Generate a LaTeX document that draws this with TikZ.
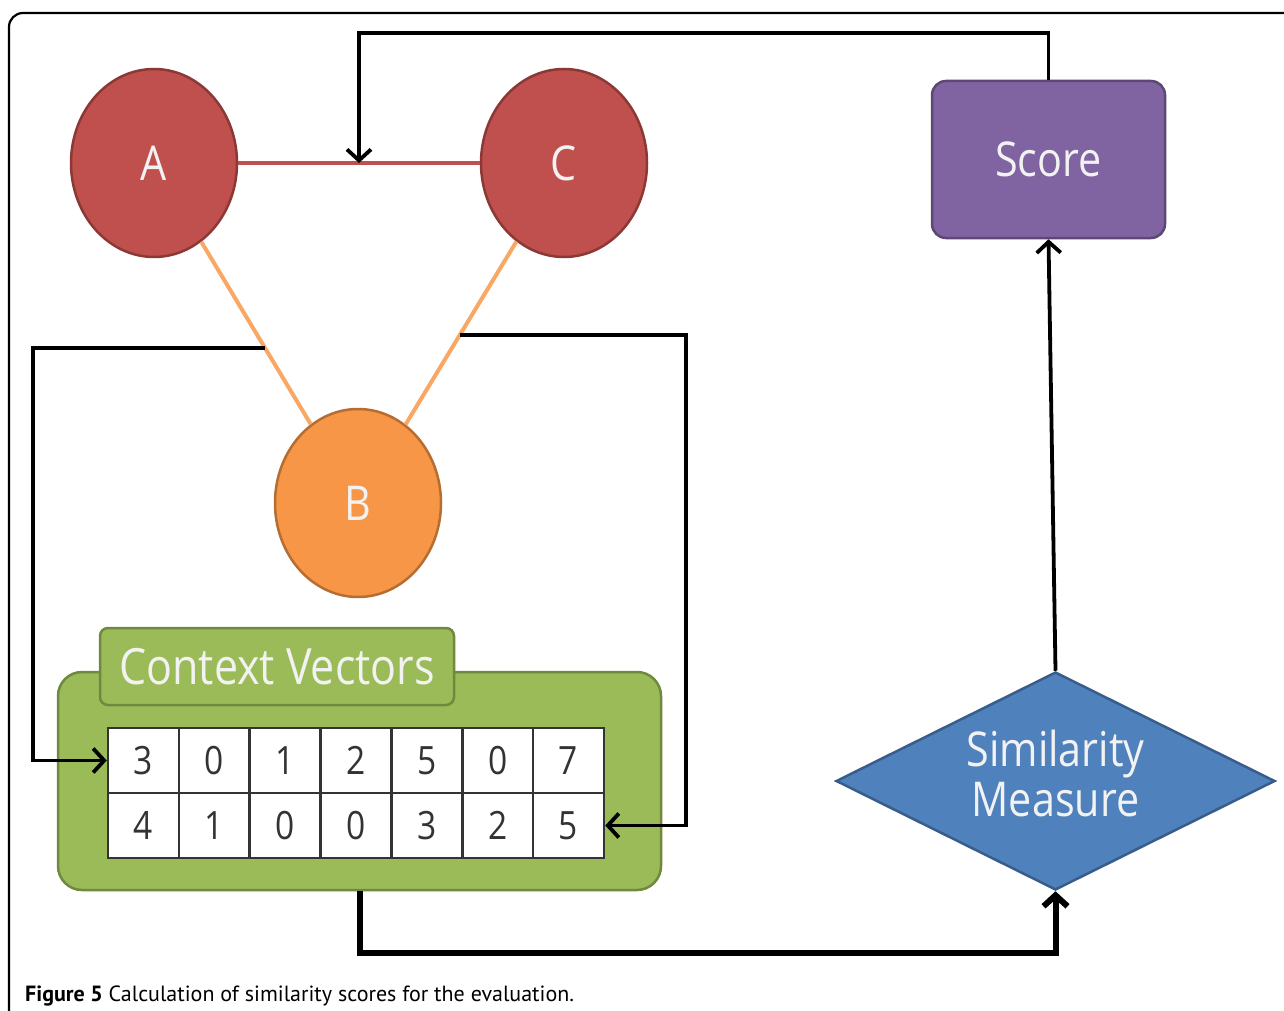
\documentclass[tikz,border=0pt]{standalone}
\usepackage{fontspec}
\setmainfont{Open Sans}
\newfontfamily\capfont{PT Sans}
\usetikzlibrary{shapes.geometric,arrows.meta,calc}

\definecolor{redf}{HTML}{C0504D}
\definecolor{redd}{HTML}{8C3836}
\definecolor{orf}{HTML}{F79646}
\definecolor{orl}{HTML}{F8A864}
\definecolor{ord}{HTML}{B66D31}
\definecolor{purf}{HTML}{8064A2}
\definecolor{purd}{HTML}{5C4776}
\definecolor{bluf}{HTML}{4F81BD}
\definecolor{blud}{HTML}{385D8A}
\definecolor{grnf}{HTML}{9BBB59}
\definecolor{grnd}{HTML}{71893F}
\definecolor{txtl}{HTML}{F2F2F2}
\definecolor{dgray}{HTML}{333333}

\newcommand{\sqz}[1]{\scalebox{0.86}[1]{#1}}

\tikzset{
  circ/.style={ellipse, minimum width=166pt, minimum height=188pt, inner sep=0pt,
    line width=2.5pt, text=txtl, font=\fontsize{48}{50}\selectfont},
  arr/.style={line width=3.8pt, draw=black, -{Straight Barb[length=11pt,width=24pt]}},
  cell/.style={draw=dgray, fill=white, line width=2.5pt, minimum width=70.857pt,
    minimum height=65pt, inner sep=0pt, text=dgray, font=\fontsize{39}{41}\selectfont},
  shapetext/.style={text=txtl, font=\fontsize{48}{50}\selectfont},
}

\begin{document}
\begin{tikzpicture}[x=1pt,y=-1pt]
\useasboundingbox (0,0) rectangle (1284,1011);
\fill[white] (0,0) rectangle (1284,1011);

% frame
\draw[line width=2.2pt, rounded corners=14pt] (9,1011) -- (9,13) -- (1290,13);

% nodes
\node[circ, fill=redf, draw=redd] (A) at (154,163) {\sqz{A}};
\node[circ, fill=redf, draw=redd] (C) at (564,163) {\sqz{C}};
\node[circ, fill=orf, draw=ord] (B) at (358,503) {\sqz{B}};

\node[shapetext, fill=purf, draw=purd, line width=2.5pt, rounded corners=14pt,
  minimum width=233pt, minimum height=157pt, inner sep=0pt] (score) at (1048.5,159.5) {\sqz{Score}};

\node[shapetext, diamond, aspect=2, fill=bluf, draw=blud, line width=2.5pt,
  minimum width=439pt, minimum height=218pt, inner sep=0pt] (sim) at (1055.5,781)
  {\sqz{\begin{tabular}{@{}c@{}}Similarity\\Measure\end{tabular}}};

\node[fill=grnf, draw=grnd, line width=2.5pt, rounded corners=24pt,
  minimum width=603pt, minimum height=218pt, inner sep=0pt] (ctx) at (359.5,781) {};
\node[fill=grnf, draw=grnd, line width=2.5pt, rounded corners=8pt,
  minimum width=354pt, minimum height=77pt, inner sep=0pt, text=txtl,
  font=\fontsize{50}{52}\selectfont] (tab) at (277,666.5) {\sqz{Context Vectors}};

\foreach [count=\c] \v in {3,0,1,2,5,0,7}
  \node[cell] (t1-\c) at ({108+70.857*(\c-0.5)},760.5) {\sqz{\v}};
\foreach [count=\c] \v in {4,1,0,0,3,2,5}
  \node[cell] (t2-\c) at ({108+70.857*(\c-0.5)},825.5) {\sqz{\v}};

% edges between circles
\draw[line width=4pt, draw=redf] (A) -- (C);
\draw[line width=4pt, draw=orl] (A) -- (B);
\draw[line width=4pt, draw=orl] (C) -- (B);

% connector coordinates
\coordinate (ac) at ($(A.east)!0.5!(C.west)$);
\coordinate (topy) at (0,33);
\coordinate (lb) at ($(A)!0.544!(B)$);
\coordinate (lx) at (33,0);
\coordinate (rb) at ($(C)!0.506!(B)$);
\coordinate (rx) at (686,0);
\coordinate (by) at (0,953);

\draw[arr] (score.north) -- (score.north |- topy) -| (ac);
\draw[arr] (lb) -- (lb -| lx) |- (t1-1.west);
\draw[arr] (rb) -- (rb -| rx) |- (t2-7.east);
\draw[arr, line width=6pt] (ctx.south) -- (ctx.south |- by) -| (sim.south);
\draw[arr] (sim.north) -- (score.south);

% caption
\node[anchor=base west, inner sep=0pt, font=\capfont\fontsize{22}{24}\selectfont] (cap) at (25,1001)
  {\textbf{Figure 5} Calculation of similarity scores for the evaluation.};
\end{tikzpicture}
\end{document}
